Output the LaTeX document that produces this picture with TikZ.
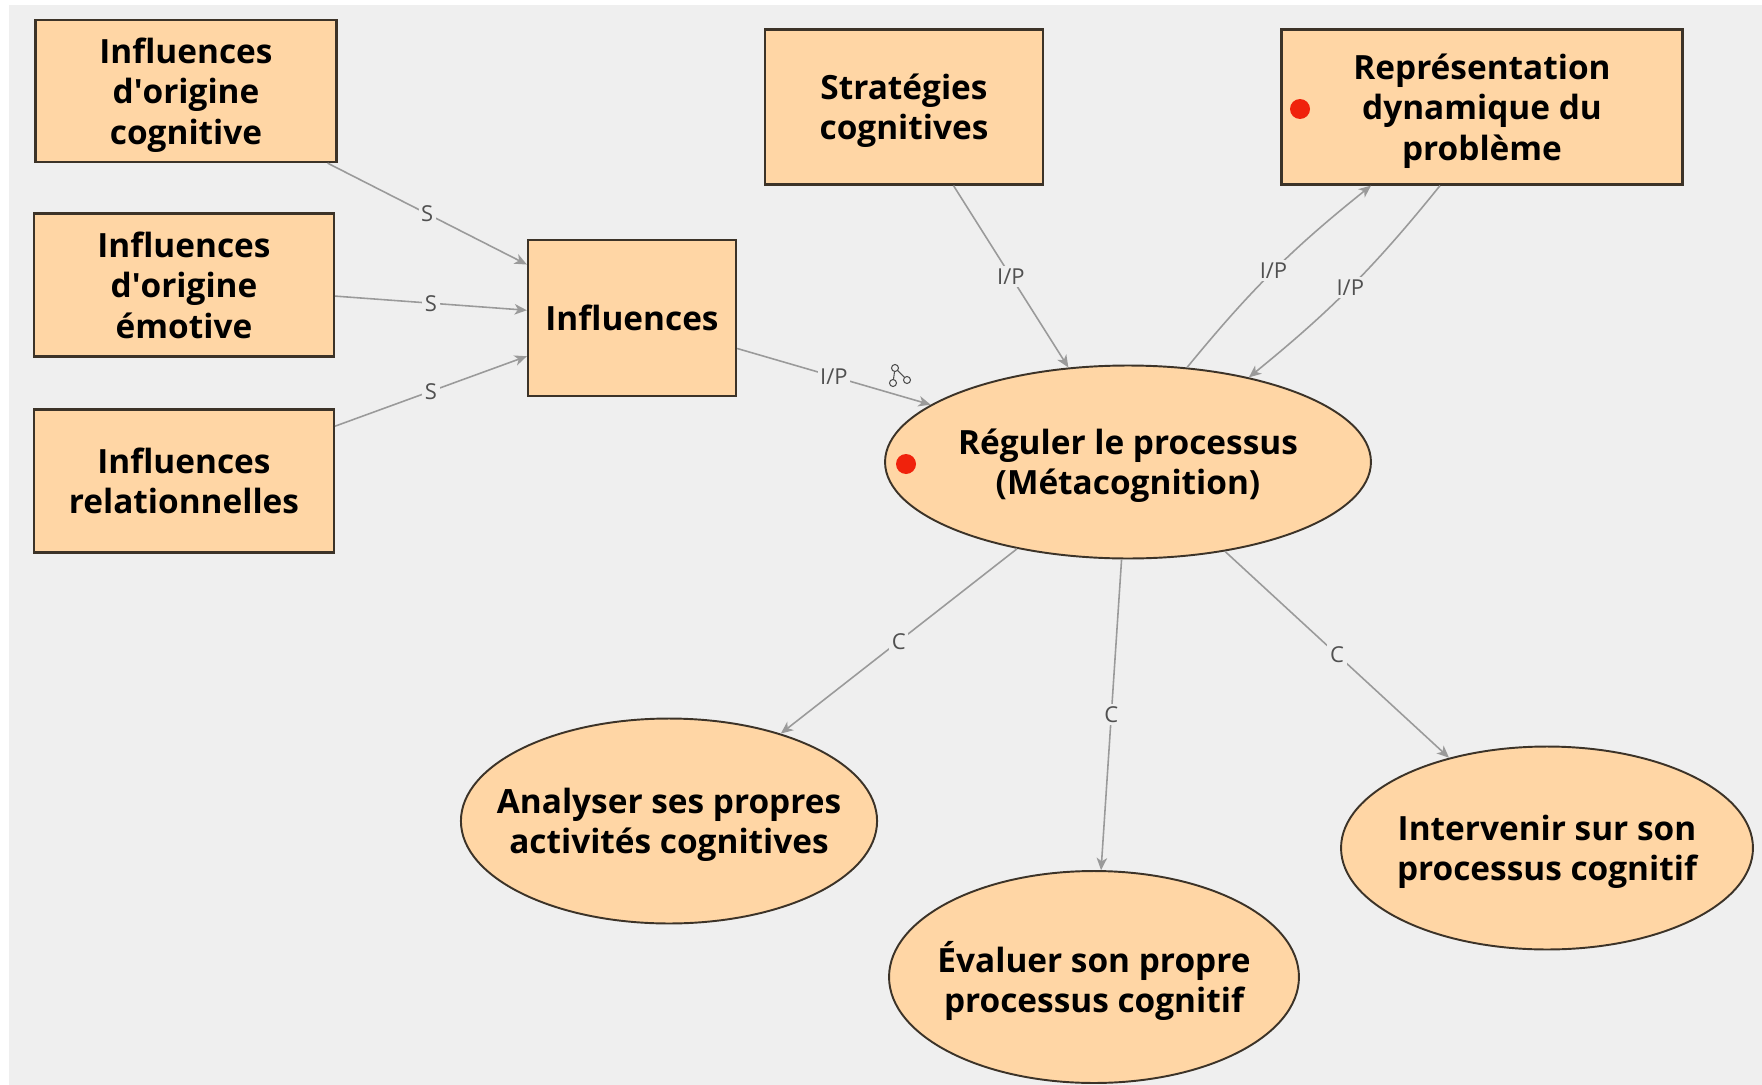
\documentclass[tikz,border=0pt]{standalone}
\usepackage{fontspec}
\setmainfont{Open Sans}
\usepackage{xcolor}
\usetikzlibrary{positioning,arrows.meta,shapes.geometric}

\definecolor{fond}{HTML}{EFEFEF}
\definecolor{peche}{HTML}{FFD6A5}
\definecolor{bord}{HTML}{3C3328}
\definecolor{trait}{HTML}{9A9A9A}
\definecolor{texte}{HTML}{505050}
\definecolor{pastille}{HTML}{F0220C}

\tikzset{
  concept/.style={rectangle,draw=bord,fill=peche,line width=1.3pt,inner sep=0pt,text depth=0pt,
    align=center,font=\fontsize{19}{23}\selectfont\bfseries},
  action/.style={ellipse,draw=bord,fill=peche,line width=1.1pt,inner xsep=-0.5cm,inner ysep=0pt,
    text depth=0pt,align=center,font=\fontsize{19}{23}\selectfont\bfseries},
  lien/.style={draw=trait,line width=0.9pt,-{Stealth[length=7pt,width=6pt,inset=2pt]}},
  etiq/.style={fill=fond,inner sep=1.5pt,text=texte,font=\fontsize{12.5}{13}\selectfont},
  marque/.style={circle,fill=pastille,inner sep=0pt,minimum size=0.4cm}
}

\begin{document}
\begin{tikzpicture}[x=0.02cm,y=-0.02cm]
\fill[white] (0,0) rectangle (1762,1085);
\fill[fond] (9,5) rectangle (1762,1085);
\useasboundingbox (0,0) rectangle (1762,1085);

% les influences
\node[concept,minimum width=6.02cm,minimum height=2.84cm] (cog) at (186,91) {Influences\\d\textquotesingle origine\\cognitive};
\node[concept,minimum width=6cm,minimum height=2.86cm] (emo) at (184,285) {Influences\\d\textquotesingle origine\\\'emotive};
\node[concept,minimum width=6cm,minimum height=2.86cm] (rel) at (184,481) {Influences\\relationnelles};
\node[concept,minimum width=4.16cm,minimum height=3.12cm] (infl) at (632,318) {Influences};

% en haut
\node[concept,minimum width=5.56cm,minimum height=3.1cm] (strat) at (904,107) {Strat\'egies\\cognitives};
\node[concept,minimum width=8.02cm,minimum height=3.1cm] (repr) at (1482,107) {Repr\'esentation\\dynamique du\\probl\`eme};

% la regulation et ses actions
\node[action,minimum width=9.72cm,minimum height=3.86cm] (reg) at (1128,462) {R\'eguler le processus\\(M\'etacognition)};
\node[action,minimum width=8.24cm,minimum height=4.1cm] (ana) at (669,821) {Analyser ses propres\\activit\'es cognitives};
\node[action,minimum width=8.2cm,minimum height=4.24cm] (eva) at (1094,977) {\'Evaluer son propre\\processus cognitif};
\node[action,minimum width=8.24cm,minimum height=4.06cm] (inter) at (1547,848) {Intervenir sur son\\processus cognitif};

\node[marque] (dot1) at (1300,109) {};
\node[marque] (dot2) at (906,464) {};

\draw[lien] (cog) -- node[etiq] {S} (infl);
\draw[lien] (emo) -- node[etiq] {S} (infl);
\draw[lien] (rel) -- node[etiq] {S} (infl);
\draw[lien] (infl) -- node[etiq] {I/P} (reg);
\draw[lien] (strat) -- node[etiq] {I/P} (reg);
\draw[lien] (reg.58) to[bend left=6] node[etiq] {I/P} ([xshift=-2.22cm]repr.south);
\draw[lien] ([xshift=-0.84cm]repr.south) to[bend left=6] node[etiq] {I/P} (reg.35);
\draw[lien] (reg) -- node[etiq] {C} (ana);
\draw[lien] (reg) -- node[etiq] {C} (eva);
\draw[lien] (reg) -- node[etiq] {C} (inter);

% petite icone de lien
\draw[texte,line width=0.6pt] (895,368) -- (893,383) (895,368) -- (907,380);
\draw[texte,line width=0.6pt,fill=fond] (895,368) circle[radius=0.07cm] (907,380) circle[radius=0.07cm] (893,383) circle[radius=0.07cm];
\end{tikzpicture}
\end{document}
